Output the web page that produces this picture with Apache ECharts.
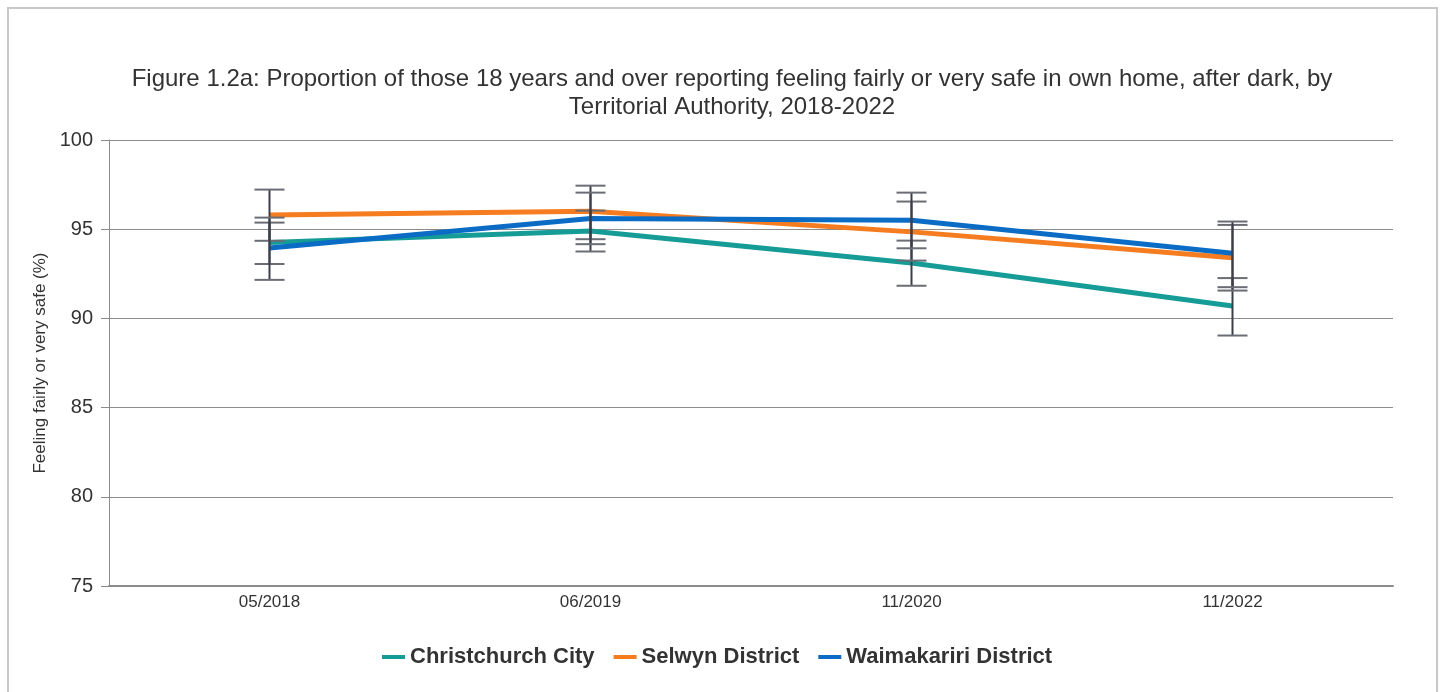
<!DOCTYPE html>
<html>
<head>
<meta charset="utf-8">
<title>Figure 1.2a</title>
<script src="https://cdn.jsdelivr.net/npm/echarts@6/dist/echarts.min.js"></script>
<style>
  html, body { margin: 0; padding: 0; background: #fff; }
  #chart { width: 1442px; height: 692px; }
</style>
</head>
<body>
<div id="chart"></div>
<script>
// categories (survey waves)
const waves = ["05/2018", "06/2019", "11/2020", "11/2022"];
const yTicks = [75, 80, 85, 90, 95, 100];

// % feeling fairly or very safe
const christchurch = [94.25, 94.9, 93.1, 90.7];
const selwyn = [95.8, 96.0, 94.85, 93.4];
const waimakariri = [93.95, 95.6, 95.5, 93.65];

// confidence intervals [low, high]
const christchurchCI = [[93.05, 95.37], [93.75, 96.04], [91.83, 94.36], [89.04, 92.26]];
const selwynCI = [[94.35, 97.22], [94.44, 97.44], [93.24, 96.55], [91.56, 95.24]];
const waimakaririCI = [[92.16, 95.65], [94.16, 97.05], [93.93, 97.05], [91.75, 95.43]];

const colours = ["#169c97", "#f57c1f", "#0a6cc4"];
const names = ["Christchurch City", "Selwyn District", "Waimakariri District"];

const chart = echarts.init(document.getElementById("chart"));

// error bar: vertical line with caps
function errorBar(params, api) {
  const x = api.value(0);
  const lo = api.coord([x, api.value(1)]);
  const hi = api.coord([x, api.value(2)]);
  const half = 15;
  const capStyle = { stroke: "#6a6d75", lineWidth: 2 };
  return {
    type: "group",
    children: [
      { type: "line", shape: { x1: lo[0], y1: lo[1], x2: hi[0], y2: hi[1] }, style: { stroke: "#3b3e48", lineWidth: 2 } },
      { type: "line", shape: { x1: lo[0] - half, y1: lo[1], x2: lo[0] + half, y2: lo[1] }, style: capStyle },
      { type: "line", shape: { x1: hi[0] - half, y1: hi[1], x2: hi[0] + half, y2: hi[1] }, style: capStyle }
    ]
  };
}

function ciData(ci) {
  return ci.map((d, i) => [i, d[0], d[1]]);
}

const lineData = [christchurch, selwyn, waimakariri];
const ciSets = [christchurchCI, selwynCI, waimakaririCI];

const series = [];
lineData.forEach((d, i) => {
  series.push({
    name: names[i],
    type: "line",
    data: d,
    symbol: "none",
    lineStyle: { width: 5, color: colours[i] },
    itemStyle: { color: colours[i] },
    z: 2
  });
});
ciSets.forEach((ci) => {
  series.push({
    type: "custom",
    renderItem: errorBar,
    data: ciData(ci),
    encode: { x: 0, y: [1, 2] },
    z: 5,
    silent: true
  });
});

chart.setOption({
  animation: false,
  textStyle: { fontFamily: "Liberation Sans, Arial, sans-serif" },
  graphic: [{
    type: "rect",
    shape: { x: 8, y: 8, width: 1429, height: 720 },
    style: { fill: "none", stroke: "#c8c8c8", lineWidth: 2 },
    silent: true
  }],
  title: {
    text: "Figure 1.2a: Proportion of those 18 years and over reporting feeling fairly or very safe in own home, after dark, by\nTerritorial Authority, 2018-2022",
    left: 727,
    textAlign: "center",
    top: 60,
    textStyle: { fontSize: 24, fontWeight: "normal", color: "#333", lineHeight: 28 }
  },
  legend: {
    data: names,
    top: 641,
    left: 377,
    icon: "rect",
    itemWidth: 23,
    itemHeight: 4,
    itemGap: 19,
    textStyle: { fontSize: 22, fontWeight: "bold", color: "#333" }
  },
  grid: { left: 109, right: 49, top: 140, bottom: 106 },
  xAxis: {
    type: "category",
    data: waves,
    axisLine: { lineStyle: { color: "#8c8c8c", width: 2 } },
    axisTick: { alignWithLabel: true, length: 5, lineStyle: { color: "#8c8c8c" } },
    axisLabel: { fontSize: 17, color: "#333", margin: 8 }
  },
  yAxis: {
    type: "value",
    min: 75,
    max: 100,
    interval: 5,
    name: "Feeling fairly or very safe (%)",
    nameLocation: "middle",
    nameRotate: 90,
    nameGap: 57,
    nameTextStyle: { fontSize: 17, color: "#333" },
    axisLine: { show: true, lineStyle: { color: "#8c8c8c", width: 1 } },
    axisTick: { show: true, length: 8, lineStyle: { color: "#8c8c8c" } },
    axisLabel: {
      fontSize: 20, color: "#333", margin: 16,
      formatter: (v) => (yTicks.includes(v) ? String(v) : "")
    },
    splitLine: { lineStyle: { color: "#8c8c8c", width: 1 } }
  },
  series
});
</script>
</body>
</html>
